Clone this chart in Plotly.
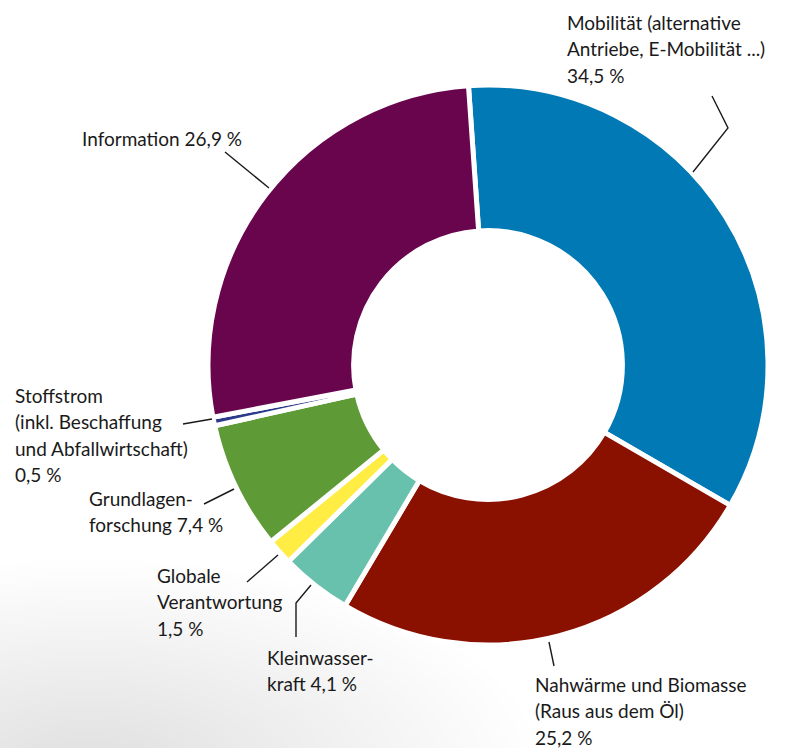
import plotly.graph_objects as go

categories = [
    "Mobilität (alternative Antriebe, E-Mobilität ...)",
    "Nahwärme und Biomasse (Raus aus dem Öl)",
    "Kleinwasserkraft",
    "Globale Verantwortung",
    "Grundlagenforschung",
    "Stoffstrom (inkl. Beschaffung und Abfallwirtschaft)",
    "Information",
]
values = [34.5, 25.2, 4.1, 1.5, 7.4, 0.5, 26.9]
colors = ["#0079B4", "#8A1000", "#68C1AD", "#FFED43", "#5E9A35", "#2B3A8A", "#69054D"]

label_lines = [
    ["Mobilität (alternative", "Antriebe, E-Mobilität ...)", "34,5 %"],
    ["Nahwärme und Biomasse", "(Raus aus dem Öl)", "25,2 %"],
    ["Kleinwasser-", "kraft 4,1 %"],
    ["Globale", "Verantwortung", "1,5 %"],
    ["Grundlagen-", "forschung 7,4 %"],
    ["Stoffstrom", "(inkl. Beschaffung", "und Abfallwirtschaft)", "0,5 %"],
    ["Information 26,9 %"],
]
label_pos = [(565, 22), (533, 684), (265, 657), (155, 575), (87, 498), (13, 395), (80, 138)]
leaders = [
    [(693, 172), (728, 128), (712, 96)],
    [(549, 642), (554, 666)],
    [(311, 585), (296, 603), (296, 637)],
    [(278, 555), (247, 582)],
    [(234, 489), (204, 504)],
    [(212, 419), (183, 424)],
    [(269, 188), (225, 152)],
]

W, H = 787, 748
cx, cy, R = 488, 365, 280

fig = go.Figure()
fig.add_trace(go.Scatter(x=[None], y=[None], showlegend=False, hoverinfo="skip"))
fig.add_trace(go.Pie(
    labels=categories, values=values, sort=False, direction="clockwise",
    rotation=-4, hole=0.48, textinfo="none", showlegend=False,
    marker=dict(colors=colors, line=dict(color="white", width=5)),
    domain=dict(x=[(cx - R) / W, (cx + R) / W], y=[(H - cy - R) / H, (H - cy + R) / H]),
))

font = dict(family="Lato", size=19, color="#1a1a1a")
LS = 26.5
annotations = []
for lines, (lx, ly) in zip(label_lines, label_pos):
    for i, t in enumerate(lines):
        annotations.append(dict(x=lx, y=ly + i * LS, xref="x", yref="y", text=t,
                                showarrow=False, xanchor="left", yanchor="middle", font=font))

shapes = []
# soft grey shading in the bottom-left corner
n = 30
for k in range(n):
    f = 1 - k / n
    rx, ry = 430 * f + 20, 200 * f + 10
    ex, ey = 90, 770
    shapes.append(dict(type="circle", xref="x", yref="y", x0=ex - rx, x1=ex + rx, y0=ey - ry, y1=ey + ry,
                       fillcolor="#707070", opacity=0.009, line=dict(width=0), layer="below"))
for pts in leaders:
    path = "M " + " L ".join(f"{x},{y}" for x, y in pts)
    shapes.append(dict(type="path", xref="x", yref="y", path=path,
                       line=dict(color="#1a1a1a", width=1.4)))

fig.update_layout(
    width=W, height=H, margin=dict(l=0, r=0, t=0, b=0),
    paper_bgcolor="white", plot_bgcolor="rgba(0,0,0,0)",
    xaxis=dict(range=[0, W], visible=False, fixedrange=True),
    yaxis=dict(range=[H, 0], visible=False, fixedrange=True),
    annotations=annotations, shapes=shapes,
)
fig.write_html("out.html", config={"displayModeBar": False},
               post_script="document.body.style.margin='0px';document.body.style.overflow='hidden';")
